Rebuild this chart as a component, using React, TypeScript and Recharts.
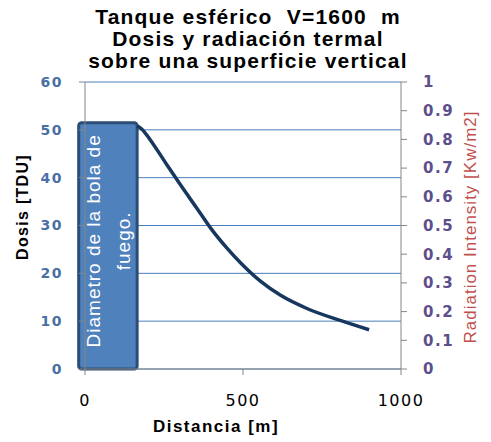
import {
  CartesianGrid,
  Label,
  Line,
  LineChart,
  ReferenceArea,
  XAxis,
  YAxis,
} from "recharts";

// Dose along the distance from the tank
const distance = [165, 175, 217, 259, 302, 355, 397, 450, 492, 556, 619, 704, 810, 899];
const dose = [50.8, 50.4, 46.9, 42.7, 38.5, 33.5, 29.5, 25.2, 22.2, 18.3, 15.4, 12.6, 10.1, 8.2];

const doseTicks = [0, 10, 20, 30, 40, 50, 60];
const radiationTicks = [0, 0.1, 0.2, 0.3, 0.4, 0.5, 0.6, 0.7, 0.8, 0.9, 1];
const distanceTicks = [0, 500, 1000];

// Fireball diameter band
const fireballStart = -20;
const fireballEnd = 165;
const fireballTop = 51.5;
const fireballText = ["Diametro de la bola de", "fuego."];

const titleLines = [
  "Tanque esférico  V=1600  m",
  "Dosis y radiación termal",
  "sobre una superficie vertical",
];

const data = distance.map((d, i) => ({ distance: d, dose: dose[i] }));

const FireballShape = (props: any) => {
  const { x, y, width, height } = props;
  const cx = x + width / 2;
  const cy = y + height / 2 - 5;
  return (
    <g>
      <rect
        x={x}
        y={y}
        width={width}
        height={height}
        rx={3}
        fill="#4f81bd"
        stroke="#2c4d76"
        strokeWidth={3}
      />
      {fireballText.map((t, i) => {
        const tx = cx + (i === 0 ? -14 : 16);
        return (
          <text
            key={t}
            x={tx}
            y={cy}
            transform={`rotate(-90 ${tx} ${cy})`}
            textAnchor="middle"
            dominantBaseline="central"
            fill="#ffffff"
            fontFamily="Liberation Sans, Arial, sans-serif"
            fontSize={19}
            letterSpacing={1}
          >
            {t}
          </text>
        );
      })}
    </g>
  );
};

export default function App() {
  return (
    <div style={{ position: "absolute", left: 0, top: 0, width: 491, height: 442, background: "#fff" }}>
      <div
        style={{
          position: "absolute",
          left: 0,
          top: 6,
          width: 496,
          textAlign: "center",
          fontFamily: "Liberation Sans, Arial, sans-serif",
          fontWeight: "bold",
          fontSize: 21,
          lineHeight: "22px",
          letterSpacing: 1.2,
          color: "#000",
          whiteSpace: "pre",
        }}
      >
        {titleLines.map((l) => (
          <div key={l}>{l}</div>
        ))}
      </div>
      <LineChart
        width={491}
        height={442}
        data={data}
        margin={{ top: 82, right: 0, bottom: 0, left: 0 }}
      >
        <CartesianGrid horizontal vertical={false} stroke="#4a7ebb" strokeWidth={1} />
        <XAxis
          dataKey="distance"
          type="number"
          domain={[0, 1000]}
          ticks={distanceTicks}
          height={73}
          stroke="#868686"
          tickSize={6}
          tickMargin={20}
          tick={{ fill: "#000", fontFamily: "DejaVu Sans", fontSize: 16, letterSpacing: 1.5 }}
        >
          <Label
            content={() => (
              <text
                x={216}
                y={432}
                textAnchor="middle"
                fontFamily="Liberation Sans, Arial, sans-serif"
                fontWeight="bold"
                fontSize={17}
                letterSpacing={1.5}
                fill="#000"
              >
                Distancia [m]
              </text>
            )}
          />
        </XAxis>
        <YAxis
          domain={[0, 60]}
          ticks={doseTicks}
          width={85}
          stroke="#868686"
          tickSize={6}
          tickMargin={16}
          tick={{ fill: "#4a6fa5", fontFamily: "DejaVu Sans", fontWeight: "bold", fontSize: 14, letterSpacing: 1.5 }}
        >
          <Label
            content={() => (
              <text
                x={22}
                y={207}
                transform="rotate(-90 22 207)"
                textAnchor="middle"
                dominantBaseline="central"
                fontFamily="Liberation Sans, Arial, sans-serif"
                fontWeight="bold"
                fontSize={16}
                letterSpacing={1.3}
                fill="#000"
              >
                Dosis [TDU]
              </text>
            )}
          />
        </YAxis>
        <YAxis
          yAxisId="rad"
          orientation="right"
          type="number"
          domain={[0, 1]}
          allowDataOverflow
          ticks={radiationTicks}
          width={90}
          stroke="#868686"
          tickSize={6}
          tickMargin={16}
          tick={{ fill: "#5d4e8c", fontFamily: "DejaVu Sans", fontWeight: "bold", fontSize: 15, letterSpacing: 1.5 }}
        >
          <Label
            content={() => (
              <text
                x={470}
                y={227}
                transform="rotate(-90 470 227)"
                textAnchor="middle"
                dominantBaseline="central"
                fontFamily="Liberation Sans, Arial, sans-serif"
                fontSize={17}
                letterSpacing={1}
                fill="#c0504d"
              >
                Radiation Intensity [Kw/m2]
              </text>
            )}
          />
        </YAxis>
        <ReferenceArea
          x1={fireballStart}
          x2={fireballEnd}
          y1={0}
          y2={fireballTop}
          ifOverflow="visible"
          shape={FireballShape}
        />
        <Line
          type="monotone"
          dataKey="dose"
          stroke="#17375e"
          strokeWidth={3.5}
          dot={false}
          isAnimationActive={false}
        />
        {/* radiation scale has no series of its own; this keeps the right axis drawn */}
        <Line
          yAxisId="rad"
          dataKey="radiation"
          stroke="none"
          dot={false}
          legendType="none"
          isAnimationActive={false}
        />
      </LineChart>
    </div>
  );
}
